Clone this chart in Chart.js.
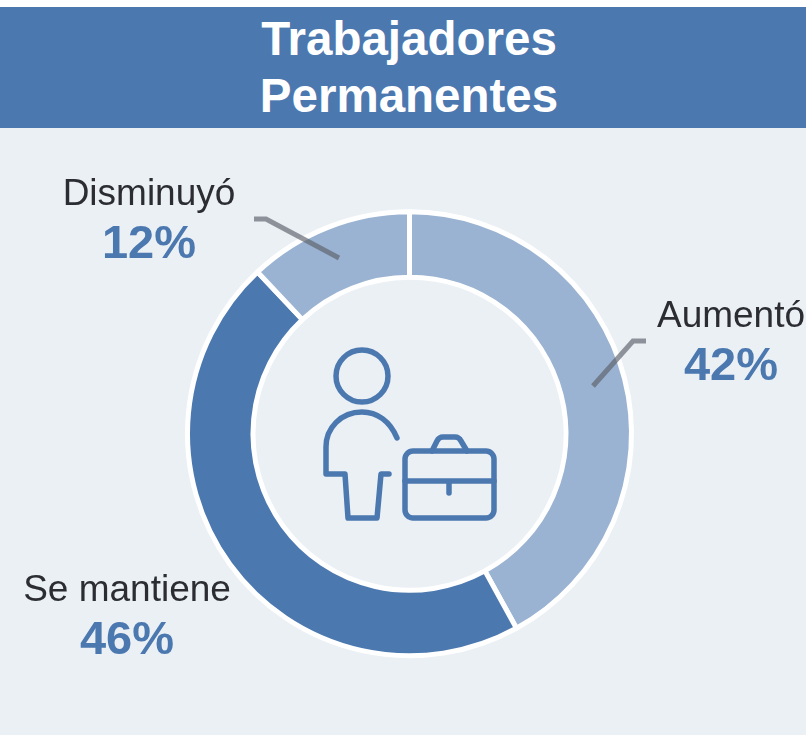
<!DOCTYPE html>
<html lang="es">
<head>
    <meta charset="UTF-8">
    <title>Trabajadores Permanentes</title>
    <script src="https://cdn.jsdelivr.net/npm/chart.js"></script>
    <style>
        html, body { margin: 0; padding: 0; background: #fff; }
        body { width: 806px; height: 735px; position: relative; overflow: hidden; font-family: "Liberation Sans", Arial, sans-serif; }
        .panel { position: absolute; left: 0; top: 128px; width: 806px; height: 607px; background: #ebf0f5; }
        .header { position: absolute; left: 0; top: 7px; width: 806px; height: 121px; background: #4c78b0; color: #fff; font-weight: bold; font-size: 47.5px; line-height: 57px; text-align: center; padding-top: 3px; box-sizing: border-box; }
        .header div { position: relative; left: 6px; }
        canvas { position: absolute; left: 0; top: 0; }
        svg { position: absolute; left: 0; top: 0; }
        .lbl { position: absolute; width: 300px; text-align: center; }
        .lbl .name { font-size: 37px; line-height: 44px; color: #2b2d33; white-space: nowrap; }
        .lbl .pct { font-size: 47px; line-height: 54px; font-weight: bold; color: #4c78b0; }
    </style>
</head>
<body>
    <div class="panel"></div>
    <div class="header" id="header"></div>
    <canvas id="donut" width="806" height="735"></canvas>

    <svg width="806" height="735" fill="none">
        <!-- lineas guia -->
        <g stroke="#5a5f69" stroke-opacity="0.65" stroke-width="5">
            <path d="M254 219 L266 219 L339 258"/>
            <path d="M646 341 L633 341 L593 386"/>
        </g>
        <!-- icono persona + maletin -->
        <g stroke="#4c78b0" stroke-width="5.5" stroke-linecap="round" stroke-linejoin="round">
            <circle cx="362" cy="376" r="26"/>
            <path d="M397 438 C390 421 377 412 362 412 C341 412 326 428 326 447 L326 474 L345 474 L348 518 L377 518 L381 474 L389 474"/>
            <rect x="405" y="451" width="89" height="67" rx="8"/>
            <path d="M405 481 L494 481 M449 481 L449 493"/>
            <path d="M432 451 L437 441 Q439 437 443 437 L455 437 Q459 437 461 441 L467 451"/>
        </g>
    </svg>

    <div id="labels"></div>

    <script>
        const titleLines = ['Trabajadores', 'Permanentes'];
        const categories = ['Aumentó', 'Se mantiene', 'Disminuyó'];
        const values = [42, 46, 12];
        const colors = ['#9ab3d2', '#4c78b0', '#9ab3d2'];

        // centro de cada etiqueta (x) y arriba del bloque (y)
        const labelX = [731, 127, 149];
        const labelY = [293, 567, 171];

        document.getElementById('header').innerHTML = titleLines.map(t => `<div>${t}</div>`).join('');

        const box = document.getElementById('labels');
        categories.forEach((cat, i) => {
            const el = document.createElement('div');
            el.className = 'lbl';
            el.style.left = (labelX[i] - 150) + 'px';
            el.style.top = labelY[i] + 'px';
            el.innerHTML = `<div class="name">${cat}</div><div class="pct">${values[i]}%</div>`;
            box.appendChild(el);
        });

        new Chart(document.getElementById('donut'), {
            type: 'doughnut',
            data: {
                labels: categories,
                datasets: [{
                    data: values,
                    backgroundColor: colors,
                    borderColor: '#ffffff',
                    borderWidth: 5
                }]
            },
            options: {
                responsive: false,
                animation: false,
                cutout: '70.5%',
                layout: { padding: { left: 185, right: 172, top: 209, bottom: 76.5 } },
                plugins: { legend: { display: false }, tooltip: { enabled: false } }
            }
        });
    </script>
</body>
</html>
